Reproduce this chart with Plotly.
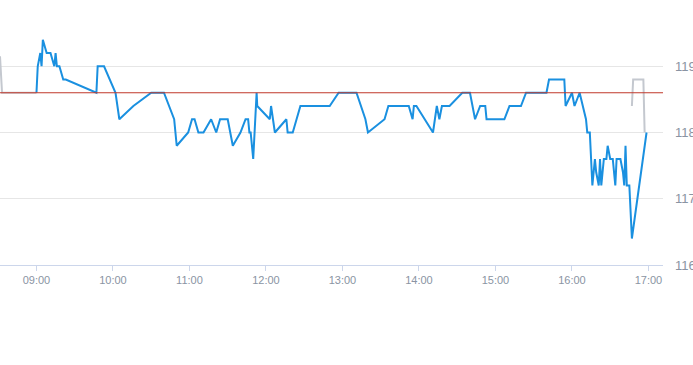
import plotly.graph_objects as go

DAY = "2024-01-02 "

pre_times = ["08:31:24", "08:33", "09:00"]
pre_values = [119.15, 118.6, 118.6]

price_times = [
    "09:00", "09:01", "09:03", "09:04", "09:05", "09:08", "09:11", "09:14", "09:15", "09:16",
    "09:18", "09:21", "09:23", "09:47", "09:48", "09:53", "10:02", "10:05", "10:16", "10:30",
    "10:40", "10:48", "10:50", "10:59", "11:02", "11:04", "11:07", "11:11", "11:17", "11:21",
    "11:24", "11:30", "11:34", "11:40", "11:44", "11:46", "11:47", "11:48", "11:50", "11:52:40",
    "11:53:10", "12:03", "12:04", "12:07", "12:16", "12:17", "12:21", "12:27", "12:50", "12:57",
    "13:11", "13:18", "13:20", "13:33", "13:36", "13:52", "13:55", "13:56", "13:58", "14:11",
    "14:14", "14:16", "14:18", "14:24", "14:34", "14:40", "14:44", "14:48", "14:52", "14:53",
    "15:07", "15:11", "15:20", "15:24", "15:40", "15:42", "15:54", "15:55", "16:00", "16:02",
    "16:06", "16:08", "16:11", "16:12", "16:14", "16:16", "16:18", "16:19", "16:21", "16:22",
    "16:23", "16:25", "16:27", "16:28", "16:30", "16:32", "16:33", "16:34", "16:35", "16:38",
    "16:40", "16:41", "16:42", "16:43", "16:45", "16:47", "16:58:30",
]
price_values = [
    118.6, 119.0, 119.2, 119.0, 119.4, 119.2, 119.2, 119.0, 119.2, 119.0,
    119.0, 118.8, 118.8, 118.6, 119.0, 119.0, 118.6, 118.2, 118.4, 118.6,
    118.6, 118.2, 117.8, 118.0, 118.2, 118.2, 118.0, 118.0, 118.2, 118.0,
    118.2, 118.2, 117.8, 118.0, 118.2, 118.2, 118.0, 118.0, 117.6, 118.6,
    118.4, 118.2, 118.4, 118.0, 118.2, 118.0, 118.0, 118.4, 118.4, 118.6,
    118.6, 118.2, 118.0, 118.2, 118.4, 118.4, 118.2, 118.4, 118.4, 118.0,
    118.4, 118.2, 118.4, 118.4, 118.6, 118.6, 118.2, 118.4, 118.4, 118.2,
    118.2, 118.4, 118.4, 118.6, 118.6, 118.8, 118.8, 118.4, 118.6, 118.4,
    118.6, 118.45, 118.2, 118.0, 118.0, 117.2, 117.6, 117.4, 117.2, 117.6,
    117.2, 117.6, 117.6, 117.8, 117.6, 117.6, 117.4, 117.2, 117.6, 117.6,
    117.4, 117.2, 117.8, 117.2, 117.2, 116.4, 118.0,
]

post_times = ["16:47", "16:48", "16:56", "16:57"]
post_values = [118.4, 118.8, 118.8, 118.0]

prev_close = 118.6

x_tick_times = ["09:00", "10:00", "11:00", "12:00", "13:00", "14:00", "15:00", "16:00", "17:00"]
y_tick_values = [116, 117, 118, 119]
x_range = ["08:31:24", "17:11:24"]
y_range = [116, 120]

BLUE = "#1a90e0"
GRAY = "#c4c8cf"
LABEL = "#8a94a3"

fig = go.Figure()
fig.add_trace(go.Scatter(x=[DAY + t for t in pre_times], y=pre_values, mode="lines",
                         line=dict(color=GRAY, width=2), hoverinfo="skip", showlegend=False))
fig.add_trace(go.Scatter(x=[DAY + t for t in post_times], y=post_values, mode="lines",
                         line=dict(color=GRAY, width=2), hoverinfo="skip", showlegend=False))
fig.add_trace(go.Scatter(x=[DAY + t for t in price_times], y=price_values, mode="lines",
                         line=dict(color=BLUE, width=2), showlegend=False))
fig.add_hline(y=prev_close, line=dict(color="#c0392b", width=1))

fig.update_layout(
    width=693, height=365,
    margin=dict(l=0, r=30, t=0, b=100),
    paper_bgcolor="white", plot_bgcolor="white",
    font=dict(family="Liberation Sans, Arial, sans-serif", size=11, color=LABEL),
    xaxis=dict(
        type="date",
        range=[DAY + x_range[0], DAY + x_range[1]],
        tickvals=[DAY + t for t in x_tick_times],
        ticktext=x_tick_times,
        showgrid=False, showline=True, linecolor="#ccd6eb", linewidth=1,
        ticks="outside", ticklen=5, tickcolor="#ccd6eb",
        tickfont=dict(size=11, color=LABEL),
        zeroline=False, automargin=False,
    ),
    yaxis=dict(
        side="right", range=y_range, tickvals=y_tick_values,
        ticktext=[str(v) for v in y_tick_values],
        showgrid=True, gridcolor="#e6e6e6", gridwidth=1,
        zeroline=False, showline=False, ticks="",
        tickfont=dict(size=13, color=LABEL),
        ticklabelstandoff=11, automargin=False,
    ),
)

fig.write_html("out.html", config={"displayModeBar": False},
               post_script="document.body.style.margin='0';document.body.style.overflow='hidden';")
